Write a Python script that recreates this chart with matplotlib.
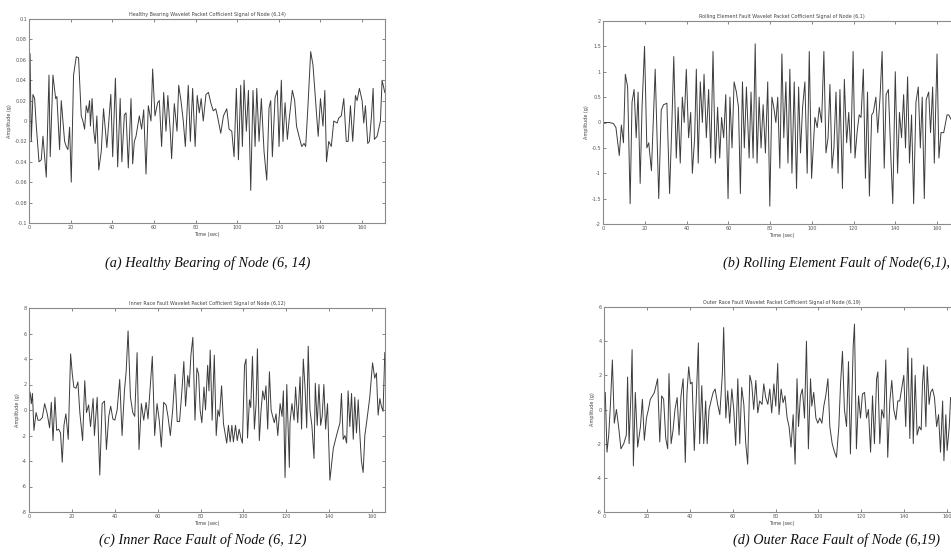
import matplotlib
matplotlib.use("Agg")
import matplotlib.pyplot as plt

# (a) healthy bearing, node (6,14)
a_t = [0, 0.5, 1.1, 1.9, 2.7, 3.5, 4.8, 5.9, 6.7, 8.3, 9.6, 10.2, 11.5, 12.8, 13.4, 14.7, 15.5, 17.1,
       17.9, 18.7, 19.5, 20.3, 21.4, 22.7, 23.8, 25.1, 25.9, 26.7, 27.5, 28.3, 29.1, 29.5, 30.3, 31.1,
       31.8, 32.6, 33.5, 34.7, 35.8, 37.4, 39.3, 40.2, 41.5, 42.6, 43.8, 44.6, 45.8, 46.6, 47.7, 49.0,
       49.8, 50.6, 51.4, 53.0, 54.1, 55.1, 56.2, 57.3, 58.6, 59.4, 60.5, 61.8, 62.6, 63.7, 64.7, 65.8,
       66.7, 67.9, 68.5, 69.8, 71.1, 71.9, 73.0, 74.1, 75.1, 76.5, 77.5, 78.6, 79.8, 80.8, 81.8, 82.7,
       83.7, 85.0, 86.2, 87.3, 88.5, 89.7, 90.5, 92.1, 93.4, 95.0, 96.1, 97.4, 98.5, 99.6, 100.6, 101.7,
       102.5, 103.3, 104.4, 105.4, 106.5, 107.6, 108.6, 109.4, 110.5, 111.6, 112.9, 114.2, 115.3, 116.1,
       116.9, 118.2, 119.3, 120.1, 121.2, 122.0, 123.0, 124.1, 124.9, 126.5, 127.6, 128.5, 129.7, 131.0,
       132.1, 132.9, 134.0, 135.3, 136.4, 137.6, 138.9, 140.0, 141.2, 142.1, 142.9, 144.0, 145.2, 146.4,
       148.0, 148.8, 150.0, 151.2, 152.4, 153.3, 154.4, 155.5, 156.8, 157.6, 158.7, 160.0, 160.8, 161.6,
       162.7, 163.5, 164.5, 165.3, 165.9, 167.2, 168.8, 169.6, 170.9]
a_y = [0.03, 0.066, -0.02, 0.026, 0.022, -0.005, -0.04, -0.038, -0.015, -0.055, 0.045, -0.035, 0.045,
       0.022, 0.024, -0.028, 0.02, -0.02, -0.025, -0.028, -0.006, -0.06, 0.045, 0.063, 0.062, 0.005,
       0.0, -0.008, 0.015, 0.008, 0.02, -0.005, 0.022, -0.01, -0.022, 0.005, -0.048, -0.03, 0.012,
       -0.026, 0.026, -0.035, 0.042, -0.045, 0.022, -0.04, 0.006, 0.008, -0.046, 0.022, -0.042, -0.02,
       -0.015, 0.005, -0.008, 0.011, -0.052, 0.015, 0.0, 0.051, 0.005, 0.018, 0.02, -0.025, 0.028,
       -0.01, 0.025, -0.012, -0.037, 0.017, -0.01, 0.035, 0.02, 0.0, -0.025, 0.035, -0.02, 0.032,
       -0.025, 0.025, 0.008, 0.022, 0.0, 0.026, 0.028, 0.018, 0.01, 0.012, 0.005, -0.012, 0.005, 0.012,
       -0.008, -0.01, -0.035, 0.032, -0.038, 0.035, -0.025, 0.04, -0.01, 0.03, -0.068, 0.03, -0.025,
       0.032, -0.02, 0.022, -0.03, -0.058, 0.013, 0.02, -0.035, 0.023, 0.03, -0.025, 0.04, -0.02, 0.018,
       -0.018, 0.0, 0.03, 0.02, -0.005, -0.015, -0.025, -0.022, -0.025, 0.015, 0.068, 0.055, 0.022,
       -0.015, 0.022, -0.005, 0.03, -0.04, -0.02, -0.025, 0.0, -0.002, 0.003, 0.005, 0.022, -0.02, -0.02,
       0.015, -0.02, 0.025, 0.02, 0.032, 0.02, -0.002, 0.015, -0.022, -0.02, 0.005, 0.032, -0.018,
       -0.015, 0.0, 0.04, 0.028]

# (b) rolling element fault, node (6,1)
b_t = [0, 3, 5, 6.2, 7.8, 8.8, 9.8, 10.7, 11.8, 13.0, 13.9, 14.9, 15.9, 16.8, 17.8, 18.7, 19.9, 21.0,
       21.9, 23.2, 25.0, 26.7, 27.9, 29.0, 30.6, 31.9, 33.0, 33.9, 35.1, 36.0, 37.0, 38.0, 38.9, 39.9,
       41.0, 42.0, 42.8, 43.9, 44.7, 45.6, 46.6, 47.6, 48.4, 49.5, 50.6, 51.6, 52.7, 53.8, 54.9, 55.9,
       56.8, 57.8, 58.8, 59.9, 60.8, 61.8, 62.8, 63.9, 64.9, 65.8, 66.8, 67.7, 68.7, 70.0, 70.9, 71.9,
       72.9, 73.8, 74.8, 75.7, 76.7, 77.8, 78.9, 79.9, 80.9, 81.8, 82.8, 83.7, 84.7, 85.7, 86.6, 87.6,
       88.6, 89.5, 90.5, 91.6, 92.7, 93.7, 94.6, 95.6, 96.7, 97.8, 98.8, 99.9, 100.7, 101.5, 102.6,
       103.6, 104.7, 105.8, 106.8, 107.8, 108.7, 109.7, 110.6, 111.6, 112.6, 113.5, 114.7, 115.6, 116.7,
       117.7, 118.7, 119.8, 120.7, 121.7, 122.7, 123.6, 124.7, 125.7, 126.7, 127.6, 128.7, 129.5, 130.7,
       131.6, 132.7, 133.7, 134.7, 135.6, 136.7, 137.9, 138.8, 140.0, 141.1, 142.0, 143.0, 144.0, 144.9,
       145.9, 146.8, 147.8, 148.8, 149.9, 151.0, 152.0, 152.9, 153.9, 154.8, 156.0, 156.9, 157.9, 158.7,
       160.0, 160.9, 161.9, 163.2, 164.8, 165.6, 166.9]
b_y = [0.0, 0.0, -0.02, -0.1, -0.65, -0.05, -0.4, 0.95, 0.7, -1.6, 0.4, 0.65, -0.3, 0.6, -1.2, 0.3,
       1.5, -0.5, -0.4, -0.95, 1.05, -1.5, 0.25, 0.35, 0.38, -1.4, 0.0, 1.3, -0.7, 0.3, -0.8, 0.5, 0.0,
       1.05, -0.3, 0.2, -1.0, -0.3, 1.05, -0.8, 0.8, 0.0, 0.95, -0.3, 0.65, -0.7, 1.4, -0.8, 0.3, -0.7,
       0.1, -0.3, 0.55, -1.5, 0.5, -0.5, 0.8, 0.6, 0.3, -1.4, 0.8, -0.5, 0.7, -0.7, 0.6, -0.7, 1.55,
       -0.8, 0.5, -0.5, 0.35, -0.6, 0.8, -1.65, 0.5, 0.3, 0.0, 0.5, -0.9, 1.35, -0.3, 0.8, -0.8, 1.05,
       -1.0, 0.8, -1.3, 0.7, -0.6, 0.3, 0.8, -1.0, 1.4, -1.1, -0.5, 0.1, -0.1, 0.3, 0.0, 1.4, -0.6, -0.3,
       0.75, -0.9, -0.5, 0.6, -1.0, 0.65, -1.3, 0.85, -0.4, 0.2, -0.6, 1.4, -0.7, -0.2, 0.15, 0.1, 1.05,
       -1.1, 0.6, -1.45, 0.15, 0.2, 0.5, -0.2, 0.5, 1.4, -0.9, 0.55, 0.65, -0.7, -1.6, 1.0, -1.0, 0.2,
       -0.3, 0.55, -0.5, 0.9, -0.8, 0.15, -1.6, 0.4, 0.7, -0.5, 0.5, -1.5, 0.45, 0.6, -0.2, 0.7, -0.8,
       1.35, -0.7, -0.2, -0.2, 0.15, 0.15, 0.05]

# (c) inner race fault, node (6,12)
c_t = [0, 0.5, 1.1, 1.6, 2.3, 3.3, 4.2, 5.1, 6.2, 7.3, 8.5, 9.6, 10.4, 11.2, 12.1, 12.9, 13.8, 14.7,
       15.5, 16.3, 17.2, 18.3, 19.4, 20.2, 20.9, 21.9, 22.8, 23.7, 25.0, 26.0, 26.8, 27.8, 28.7, 29.9,
       30.5, 31.8, 33.0, 34.1, 35.2, 36.1, 37.2, 38.1, 39.1, 40.0, 41.1, 42.3, 43.4, 44.5, 45.3, 46.2,
       47.3, 48.4, 49.3, 50.4, 51.3, 52.4, 53.5, 54.6, 55.5, 56.6, 57.5, 58.6, 59.7, 60.8, 61.7, 62.8,
       63.9, 64.8, 65.9, 67.0, 68.1, 69.1, 70.2, 71.3, 72.2, 73.0, 74.0, 74.7, 75.5, 76.4, 77.4, 78.3,
       79.1, 79.8, 80.6, 81.6, 82.3, 83.3, 83.9, 84.5, 85.4, 86.4, 87.3, 88.1, 88.8, 89.8, 90.7, 92.2,
       93.0, 93.8, 94.6, 95.3, 96.3, 97.1, 98.0, 98.8, 99.5, 100.5, 101.2, 101.9, 102.8, 103.4, 104.2,
       105.1, 105.9, 106.5, 107.4, 108.2, 109.0, 109.8, 110.5, 111.3, 112.1, 112.9, 113.6, 114.4, 115.2,
       116.0, 117.1, 118.0, 118.6, 119.4, 120.2, 121.4, 121.7, 122.6, 123.6, 124.3, 125.3, 126.4, 127.1,
       127.9, 128.7, 129.5, 130.2, 131.0, 131.9, 132.9, 133.5, 134.4, 135.2, 136.0, 136.7, 137.5, 138.3,
       139.2, 140.3, 141.9, 143.4, 145.0, 145.7, 146.5, 147.3, 148.1, 148.8, 149.6, 150.4, 151.2, 151.9,
       152.7, 153.5, 154.3, 155.0, 155.8, 156.6, 157.4, 158.9, 160.2, 161.2, 162.0, 162.8, 163.6, 164.3,
       165.1, 165.9]
c_y = [1.4, 1.4, 0.5, 1.3, -1.6, -0.2, -0.8, -0.8, -0.6, 0.5, -0.3, -1.4, 0.6, -2.4, 1.0, -1.6, -1.5,
       -1.8, -4.1, -1.2, -0.3, -2.3, 4.4, 2.8, 1.8, 1.7, 2.2, -0.2, -2.4, 2.3, -0.2, 0.4, -1.3, 0.9,
       -2.0, 1.0, -5.1, 0.5, 0.7, -3.1, -0.5, 0.3, -0.7, -0.8, 0.0, 2.4, -2.0, 1.5, 3.0, 6.2, 1.0, -0.2,
       -0.5, 4.5, -3.1, 0.5, -0.8, 0.6, -0.7, 2.0, 4.2, -2.0, 0.5, -0.9, -2.9, 0.6, 0.4, -0.5, -2.0, 0.0,
       2.8, -0.9, -0.9, 1.5, 3.8, 0.3, 2.7, 1.8, 4.3, 5.7, -0.8, 3.3, 2.8, 0.0, -1.0, 1.8, 0.0, 3.5, 1.5,
       4.7, -0.8, 4.3, -2.0, 0.0, -0.5, 1.9, -1.1, -2.6, -1.2, -2.5, -1.2, -2.5, -1.2, -2.4, -1.5, -2.2,
       -2.6, 3.5, 4.0, -2.2, 0.8, 0.2, 4.2, -1.5, 0.5, 4.8, -2.4, 0.0, 1.5, 0.8, 1.9, -1.5, 3.0, 0.0,
       -0.5, -1.0, -0.3, -2.0, 0.5, -0.5, 1.5, -5.3, 2.0, -4.5, -1.0, 0.5, -0.8, 1.8, -1.0, 2.6, -1.5,
       4.0, 1.8, -1.4, 5.0, 0.0, -1.2, -3.8, 2.1, -1.2, 2.0, -1.2, -0.5, 2.0, -1.5, 0.5, -5.5, -3.0,
       -2.0, -1.0, 1.3, -2.3, -2.0, -2.6, 1.5, -1.3, 1.3, -2.3, 1.0, -1.8, 0.8, -2.0, -4.0, -4.9, -2.0,
       -1.0, 1.0, 3.7, 2.5, 2.9, -0.4, 0.9, 0.3, -0.1, 4.5]

# (d) outer race fault, node (6,19)
d_t = [0, 0.6, 1.4, 2.2, 3.0, 3.9, 4.8, 5.8, 6.8, 7.9, 9.2, 10.4, 11.0, 11.7, 12.6, 13.1, 13.7, 14.6,
       15.7, 17.0, 17.9, 18.8, 19.8, 20.7, 21.6, 22.6, 23.5, 25.0, 26.0, 26.9, 27.8, 28.8, 29.7, 30.3,
       31.3, 32.2, 33.1, 34.1, 35.0, 35.9, 36.9, 37.9, 38.7, 39.5, 40.3, 41.1, 42.1, 43.1, 44.0, 44.6,
       45.6, 46.5, 47.4, 48.1, 49.0, 49.9, 50.9, 51.8, 53.0, 54.0, 55.2, 55.8, 56.8, 57.7, 58.6, 59.6,
       60.5, 61.4, 62.4, 63.3, 64.2, 65.2, 66.1, 67.0, 68.0, 68.9, 69.8, 70.8, 71.7, 72.6, 73.7, 74.5,
       75.4, 76.4, 77.3, 78.2, 79.2, 80.1, 81.0, 81.6, 82.6, 83.5, 84.4, 85.4, 86.3, 87.2, 88.2, 89.1,
       90.0, 90.7, 91.6, 92.5, 93.5, 94.4, 95.3, 96.3, 96.9, 97.8, 98.8, 99.7, 100.6, 101.6, 102.5,
       103.4, 104.4, 105.3, 106.4, 107.5, 108.4, 109.5, 110.3, 111.2, 112.1, 113.1, 114.0, 114.9, 116.2,
       116.8, 117.7, 118.7, 119.6, 120.5, 121.5, 122.4, 123.3, 124.3, 125.2, 126.1, 127.1, 127.7, 128.6,
       129.5, 130.5, 131.4, 132.3, 133.3, 134.2, 135.1, 136.1, 137.0, 137.9, 138.9, 139.8, 140.7, 141.7,
       142.6, 143.5, 144.2, 145.1, 146.0, 147.0, 147.9, 148.5, 149.1, 150.1, 150.7, 151.6, 152.3, 153.2,
       154.1, 155.1, 156.0, 156.9, 157.9, 158.5, 159.4, 160.0, 161.0, 161.6]
d_y = [0.0, 1.0, -2.5, -1.5, 0.3, 2.9, -0.8, 0.0, -1.0, -2.3, -2.0, -1.5, 1.9, -2.0, 1.0, 3.5, -3.3,
       1.0, -2.2, -1.0, 0.6, -1.8, -0.5, 0.0, 0.6, 0.8, 1.0, 1.8, -1.9, 0.8, 0.6, -1.7, -2.3, 2.1, -2.0,
       -1.2, 0.0, 0.7, -1.5, 0.8, 1.8, -3.1, 1.0, 2.5, 1.5, 1.6, -2.4, 1.0, 3.9, -2.0, 1.4, -2.0, 0.5,
       -2.0, 0.0, 0.5, 1.0, 1.2, 0.3, -0.3, 2.1, 4.8, -0.5, 1.1, -0.8, 1.2, 0.0, -2.1, 1.8, -2.0, 1.3,
       0.3, -2.0, -3.2, 2.0, 1.5, 0.0, 1.7, -0.2, 0.5, 0.3, 1.5, 0.7, 0.3, 1.2, -0.2, 1.5, 0.2, 2.7,
       -0.3, 1.2, 0.4, 0.8, -0.5, -1.0, -2.2, -0.3, -3.2, 1.8, -1.0, 0.8, 1.2, -0.5, 4.0, -2.3, 1.8, 0.2,
       1.0, -0.5, -0.8, -0.5, -0.8, 0.2, 0.8, 1.8, -1.0, -2.0, -2.5, -2.8, -1.0, 1.5, 3.4, 0.0, -1.0,
       2.8, -2.6, 3.7, 5.0, -2.3, 0.8, -0.5, 0.9, 1.0, -0.5, 0.0, -2.5, 0.8, -2.0, 1.8, 2.2, -2.0, 0.0,
       -0.5, 2.9, -2.8, 0.5, 1.7, 0.0, -0.6, 0.5, 0.5, 1.3, 2.0, -1.0, 3.6, -1.7, 3.0, -2.0, 2.0, -1.5,
       -1.0, -1.2, 1.5, 2.6, -1.0, 2.5, 0.3, 1.0, 1.2, 0.7, -1.0, -0.3, -2.5, 0.5, -3.0, -0.3, -2.4,
       -1.0, 0.7]

panels = [
    dict(t=a_t, y=a_y, xlim=171, ylim=0.1, yticks=[-0.1, -0.08, -0.06, -0.04, -0.02, 0, 0.02, 0.04, 0.06, 0.08, 0.1],
         title='Healthy Bearing Wavelet Packet Cofficient Signal of Node (6,14)',
         caption='(a) Healthy Bearing of Node (6, 14)', rect=[29, 19, 356, 204], cap=(208, 263, 'center')),
    dict(t=b_t, y=b_y, xlim=171, ylim=2, yticks=[-2, -1.5, -1, -0.5, 0, 0.5, 1, 1.5, 2],
         title='Rolling Element Fault Wavelet Packet Cofficient Signal of Node (6,1)',
         caption='(b) Rolling Element Fault of Node(6,1),', rect=[603, 21, 357, 203], cap=(950, 263, 'right')),
    dict(t=c_t, y=c_y, xlim=166, ylim=8, yticks=[-8, -6, -4, -2, 0, 2, 4, 6, 8],
         title='Inner Race Fault Wavelet Packet Cofficient Signal of Node (6,12)',
         caption='(c) Inner Race Fault of Node (6, 12)', rect=[29, 308, 356, 204], cap=(203, 540, 'center')),
    dict(t=d_t, y=d_y, xlim=166, ylim=6, yticks=[-6, -4, -2, 0, 2, 4, 6],
         title='Outer Race Fault Wavelet Packet Cofficient Signal of Node (6,19)',
         caption='(d) Outer Race Fault of Node (6,19)', rect=[604, 307, 356, 205], cap=(940, 540, 'right')),
]

W, H = 951, 556
fig = plt.figure(figsize=(W / 100, H / 100), dpi=100)

for p in panels:
    x0, y0, w, h = p['rect']
    ax = fig.add_axes([x0 / W, 1 - (y0 + h) / H, w / W, h / H])
    ax.plot(p['t'], p['y'], color='#3c3c3c', lw=0.7)
    ax.set_xlim(0, p['xlim'])
    ax.set_ylim(-p['ylim'], p['ylim'])
    ax.set_xticks(range(0, 161, 20))
    ax.set_yticks(p['yticks'])
    ax.set_yticklabels(['%g' % v for v in p['yticks']])
    ax.tick_params(direction='in', top=True, right=True, length=2.5, width=0.5,
                   labelsize=3.5, pad=1.5, colors='#555555')
    for s in ax.spines.values():
        s.set_color('#8a8a8a')
        s.set_linewidth(0.8)
    ax.set_title(p['title'], fontsize=3.5, color='#444444', pad=2)
    ax.set_xlabel('Time (sec)', fontsize=3.5, color='#444444', labelpad=1.5)
    ax.set_ylabel('Amplitude (g)', fontsize=3.5, color='#444444', labelpad=1.5)
    cx, cy, ha = p['cap']
    fig.text(cx / W, 1 - cy / H, p['caption'], ha=ha, va='center', fontsize=10.3,
             family='Liberation Serif', style='italic', color='#111111')

fig.savefig('out.png', dpi=100)
